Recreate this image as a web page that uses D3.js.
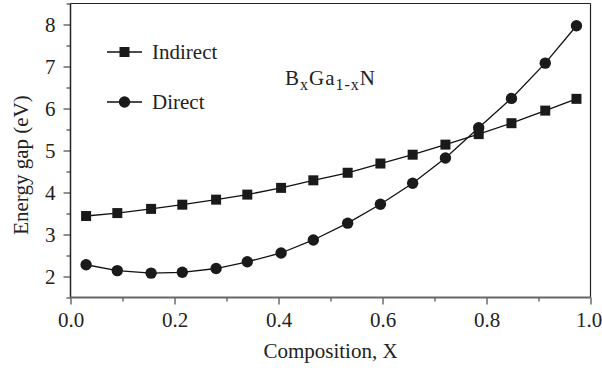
<!DOCTYPE html>
<html lang="en">
<head>
    <meta charset="UTF-8">
    <title>Energy gap of BxGa1-xN</title>
    <script src="https://d3js.org/d3.v7.min.js"></script>
    <style>
        body {
            margin: 0;
            background: #fff;
        }
        .axis path { display: none; }
        .axis line { stroke: #222; }
    </style>
</head>
<body>
    <svg id="chart" width="602" height="370"></svg>

    <script>
        // Data
        const composition = [0.03, 0.09, 0.155, 0.215, 0.28, 0.34, 0.405, 0.467, 0.533, 0.596, 0.658, 0.721, 0.785, 0.848, 0.913, 0.973];
        const indirectGap = [3.44, 3.51, 3.61, 3.71, 3.83, 3.95, 4.11, 4.29, 4.47, 4.69, 4.90, 5.14, 5.39, 5.65, 5.95, 6.23];
        const directGap = [2.28, 2.14, 2.08, 2.10, 2.19, 2.35, 2.56, 2.87, 3.27, 3.72, 4.22, 4.82, 5.54, 6.24, 7.08, 7.97];
        const xTicks = [0, 0.2, 0.4, 0.6, 0.8, 1.0];
        const yTicks = [2, 3, 4, 5, 6, 7, 8];

        const FONT = "'Liberation Serif', 'Times New Roman', serif";
        const margin = { top: 3.5, right: 11.5, bottom: 72.5, left: 70.5 };
        const width = 602 - margin.left - margin.right;
        const height = 370 - margin.top - margin.bottom;

        const svg = d3.select("#chart")
            .append("g")
            .attr("transform", `translate(${margin.left},${margin.top})`)
            .attr("font-family", FONT);

        // Scales
        const x = d3.scaleLinear().domain([0, 1]).range([0, width]);
        const y = d3.scaleLinear().domain([1.5, 8.5]).range([height, 0]);

        // Minor ticks
        const xMinor = d3.range(0.1, 1.0, 0.2);
        const yMinor = d3.range(1.5, 8.6, 1);

        svg.append("g")
            .attr("class", "axis")
            .attr("transform", `translate(0,${height})`)
            .call(d3.axisBottom(x).tickValues(xMinor).tickSize(4).tickFormat(""));

        svg.append("g")
            .attr("class", "axis")
            .call(d3.axisLeft(y).tickValues(yMinor).tickSize(4).tickFormat(""));

        // Major ticks + labels
        svg.append("g")
            .attr("class", "axis")
            .attr("transform", `translate(0,${height})`)
            .call(d3.axisBottom(x).tickValues(xTicks).tickSize(7).tickPadding(7).tickFormat(d3.format(".1f")))
            .call(g => g.attr("font-family", FONT).attr("font-size", 21))
            .selectAll("text")
            .attr("fill", "#222")
            .attr("dy", "0.75em")
            .attr("dx", d => d === 1 ? -2 : 0);

        svg.append("g")
            .attr("class", "axis")
            .call(d3.axisLeft(y).tickValues(yTicks).tickSize(7).tickPadding(8).tickFormat(d3.format("d")))
            .call(g => g.attr("font-family", FONT).attr("font-size", 21))
            .selectAll("text")
            .attr("fill", "#222");

        // Frame
        svg.append("line").attr("x1", 0).attr("x2", width).attr("y1", 0).attr("y2", 0)
            .attr("stroke", "#222").attr("stroke-width", 1);
        svg.append("line").attr("x1", width).attr("x2", width).attr("y1", 0).attr("y2", height)
            .attr("stroke", "#222").attr("stroke-width", 1.2);
        svg.append("line").attr("x1", 0).attr("x2", 0).attr("y1", 0).attr("y2", height)
            .attr("stroke", "#222").attr("stroke-width", 1.5);
        svg.append("line").attr("x1", 0).attr("x2", width).attr("y1", height).attr("y2", height)
            .attr("stroke", "#666").attr("stroke-width", 2);

        // Series
        const line = d3.line().x(d => x(d[0])).y(d => y(d[1]));
        const indirect = composition.map((c, i) => [c, indirectGap[i]]);
        const direct = composition.map((c, i) => [c, directGap[i]]);

        [indirect, direct].forEach(series => {
            svg.append("path")
                .datum(series)
                .attr("d", line)
                .attr("fill", "none")
                .attr("stroke", "#111")
                .attr("stroke-width", 1.3);
        });

        const sq = 10;
        svg.selectAll(".sq")
            .data(indirect)
            .join("rect")
            .attr("x", d => x(d[0]) - sq / 2)
            .attr("y", d => y(d[1]) - sq / 2)
            .attr("width", sq)
            .attr("height", sq)
            .attr("fill", "#1a1a1a");

        svg.selectAll(".dot")
            .data(direct)
            .join("circle")
            .attr("cx", d => x(d[0]))
            .attr("cy", d => y(d[1]))
            .attr("r", 5.7)
            .attr("fill", "#1a1a1a");

        // Legend
        const legend = svg.append("g").attr("transform", `translate(${107 - margin.left},0)`);
        [["Indirect", "square", 52], ["Direct", "circle", 102]].forEach(([label, shape, ly]) => {
            const ty = ly - margin.top;
            legend.append("line").attr("x1", 0).attr("x2", 35).attr("y1", ty).attr("y2", ty)
                .attr("stroke", "#111").attr("stroke-width", 1.3);
            if (shape === "square") {
                legend.append("rect").attr("x", 17.5 - sq / 2).attr("y", ty - sq / 2)
                    .attr("width", sq).attr("height", sq).attr("fill", "#1a1a1a");
            } else {
                legend.append("circle").attr("cx", 17.5).attr("cy", ty).attr("r", 5.7).attr("fill", "#1a1a1a");
            }
            legend.append("text").attr("x", 45).attr("y", ty + 7)
                .attr("font-size", 21).attr("fill", "#222").text(label);
        });

        // Compound label
        const formula = svg.append("text")
            .attr("x", 285 - margin.left)
            .attr("y", 85 - margin.top)
            .attr("font-size", 21)
            .attr("letter-spacing", 1)
            .attr("fill", "#222");
        formula.append("tspan").text("B");
        formula.append("tspan").attr("font-size", 16).attr("dy", 5).text("x");
        formula.append("tspan").attr("dy", -5).text("Ga");
        formula.append("tspan").attr("font-size", 16).attr("dy", 5).text("1-x");
        formula.append("tspan").attr("dy", -5).text("N");

        // Axis titles
        svg.append("text")
            .attr("x", width / 2)
            .attr("y", 358 - margin.top)
            .attr("text-anchor", "middle")
            .attr("font-size", 21)
            .attr("fill", "#222")
            .text("Composition, X");

        svg.append("text")
            .attr("transform", `translate(${28 - margin.left},${165 - margin.top}) rotate(-90)`)
            .attr("text-anchor", "middle")
            .attr("font-size", 21)
            .attr("fill", "#222")
            .text("Energy gap (eV)");
    </script>
</body>
</html>
